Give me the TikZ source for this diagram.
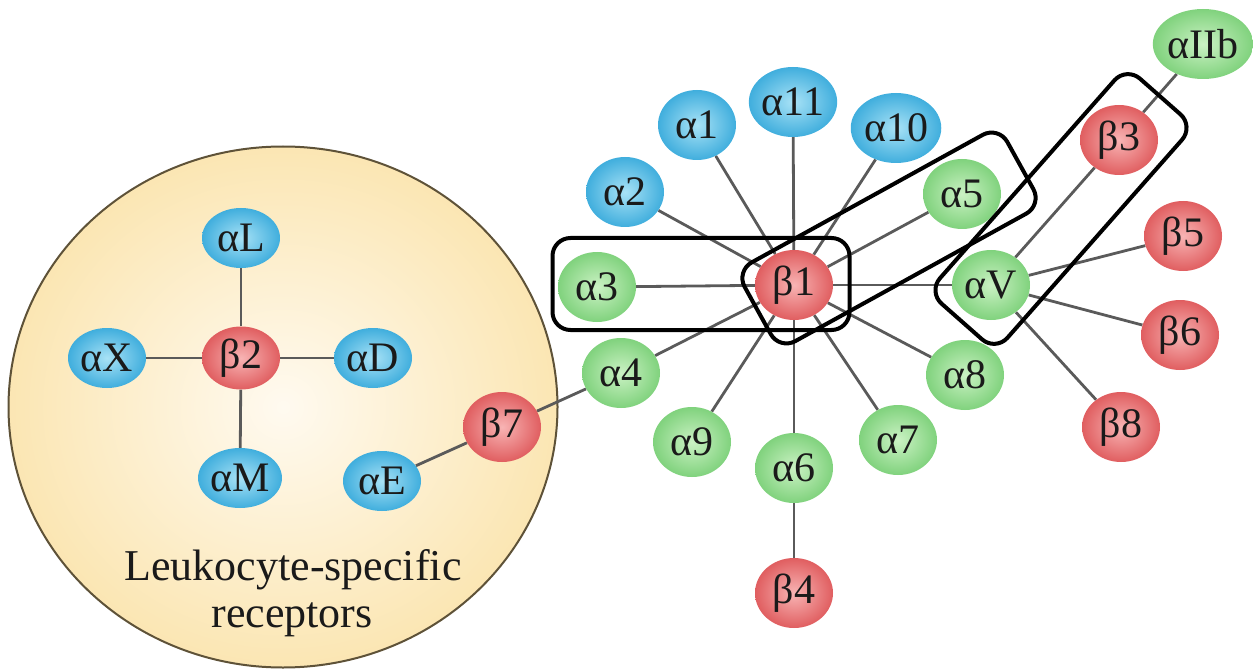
\documentclass[tikz,border=0pt]{standalone}
\usepackage{fontspec}
\setmainfont{Liberation Serif}
\usetikzlibrary{shapes.geometric,backgrounds}
\definecolor{bluein}{HTML}{A8E2F6}
\definecolor{blueout}{HTML}{40AEDD}
\definecolor{grnin}{HTML}{CBF2C4}
\definecolor{grnout}{HTML}{80D27D}
\definecolor{redin}{HTML}{F8B4B4}
\definecolor{redout}{HTML}{E05E60}
\definecolor{circin}{HTML}{FFFAF0}
\definecolor{circout}{HTML}{FBE6B3}
\definecolor{circborder}{HTML}{5E5238}
\definecolor{linkgray}{HTML}{5A5A5A}
\definecolor{textdark}{HTML}{1A1A1A}
\begin{document}
\begin{tikzpicture}[x=1pt,y=-1pt,
  mol/.style={ellipse, inner sep=0pt, minimum width=78pt, minimum height=70pt,
    font=\fontsize{42}{48}\selectfont, text=textdark},
  blu/.style={mol, inner color=bluein, outer color=blueout},
  grn/.style={mol, inner color=grnin, outer color=grnout},
  rednode/.style={mol, inner color=redin, outer color=redout},
  sm/.style={minimum height=60pt},
  link/.style={draw=linkgray, line width=2.8pt},
  grp/.style={draw=black, line width=4pt, rounded corners=18pt,
    minimum width=300pt, minimum height=90pt, inner sep=0pt},
  captext/.style={anchor=base, font=\fontsize{44}{47}\selectfont, text=textdark}
]
\useasboundingbox (0,0) rectangle (1253,671);

% integrin nodes
\node[blu] (a1) at (697,125) {α1};
\node[blu] (a11) at (793,102) {α11};
\node[blu] (a10) at (896,128) {α10};
\node[blu] (a2) at (625,192) {α2};
\node[grn] (a3) at (597,287) {α3};
\node[rednode] (b1) at (794,285) {β1};
\node[grn] (a5) at (962,194) {α5};
\node[rednode] (b3) at (1119,140) {β3};
\node[grn] (a2b) at (1203,44) {αIIb};
\node[grn] (aV) at (991,285) {αV};
\node[rednode] (b5) at (1183,236) {β5};
\node[rednode] (b6) at (1180,335) {β6};
\node[rednode] (b8) at (1121,427) {β8};
\node[grn] (a8) at (965,375) {α8};
\node[grn] (a7) at (898,440) {α7};
\node[grn] (a6) at (794,468) {α6};
\node[rednode] (b4) at (794,593) {β4};
\node[grn] (a9) at (692,442) {α9};
\node[grn] (a4) at (621,373) {α4};
\node[rednode] (b7) at (502,427) {β7};
\node[blu,sm] (aL) at (241,238) {αL};
\node[rednode,minimum height=63pt] (b2) at (241,358) {β2};
\node[blu,sm] (aX) at (107,358) {αX};
\node[blu,sm] (aD) at (373,358) {αD};
\node[blu,sm] (aM) at (240,478) {αM};
\node[blu,sm] (aE) at (382,481) {αE};

\node[captext] (cap1) at (293,580) {Leukocyte-specific};
\node[captext] (cap2) at (292,627) {receptors};

\begin{pgfonlayer}{background}
\node[ellipse, minimum width=549pt, minimum height=521pt, draw=circborder,
  line width=2pt, inner color=circin, outer color=circout] (leuk) at (283,407) {};
\foreach \n in {a1,a2,a3,a11,a10,a5,aV,a8,a7,a6,a9,a4}
  \draw[link] (b1) -- (\n);
\draw[link] (a6) -- (b4);
\draw[link] (aV) -- (b3);
\draw[link] (b3) -- (a2b);
\draw[link] (aV) -- (b5);
\draw[link] (aV) -- (b6);
\draw[link] (aV) -- (b8);
\draw[link] (b7) -- (a4);
\draw[link] (b7) -- (aE);
\foreach \n in {aL,aX,aD,aM}
  \draw[link] (b2) -- (\n);
\end{pgfonlayer}

% grouping boxes
\node[grp, minimum width=297pt, minimum height=92pt] (box1) at (701,284) {};
\node[grp, rotate=28.9] (box2) at (889,238) {};
\node[grp, rotate=48.6] (box3) at (1061,209) {};
\end{tikzpicture}
\end{document}
